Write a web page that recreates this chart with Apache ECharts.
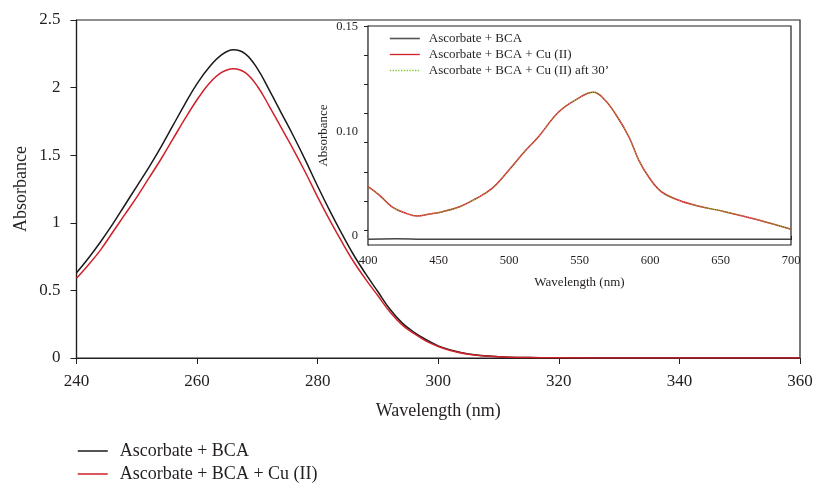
<!DOCTYPE html>
<html>
<head>
<meta charset="utf-8">
<script src="https://cdn.jsdelivr.net/npm/echarts@6/dist/echarts.min.js"></script>
<style>
    html, body { margin: 0; padding: 0; background: #fff; }
    #chart { width: 817px; height: 483px; }
</style>
</head>
<body>
<div id="chart"></div>
<script>
// main spectrum (UV)
var mainWavelength = [240, 242, 244, 246, 248, 250, 252, 254, 256, 258, 260, 262, 264, 266, 268, 270, 272, 274, 276, 278, 280, 282, 284, 286, 288, 290, 292, 294, 296, 298, 300, 302, 305, 310, 315, 320, 330, 340, 350, 360];
var mainBCA = [0.63, 0.74, 0.86, 0.99, 1.13, 1.27, 1.41, 1.56, 1.72, 1.88, 2.03, 2.15, 2.24, 2.28, 2.25, 2.14, 1.98, 1.81, 1.64, 1.46, 1.27, 1.09, 0.92, 0.76, 0.62, 0.49, 0.36, 0.26, 0.19, 0.135, 0.09, 0.06, 0.03, 0.01, 0.003, 0.001, 0, 0, 0, 0];
var mainBCACu = [0.59, 0.69, 0.80, 0.93, 1.06, 1.19, 1.33, 1.47, 1.62, 1.77, 1.91, 2.03, 2.11, 2.14, 2.11, 2.01, 1.86, 1.70, 1.54, 1.37, 1.19, 1.02, 0.86, 0.71, 0.58, 0.46, 0.34, 0.245, 0.18, 0.125, 0.085, 0.056, 0.028, 0.009, 0.003, 0.001, 0, 0, 0, 0];

// inset spectrum (visible)
var insetWavelength = [400, 408, 417, 427, 435, 443, 453, 465, 476, 488, 500, 512, 520, 535, 547, 560, 568, 576, 585, 592, 599, 608, 620, 634, 653, 677, 700];
var insetCu = [0.0472, 0.0392, 0.0280, 0.0217, 0.0191, 0.0208, 0.0233, 0.0280, 0.0354, 0.0456, 0.0632, 0.0823, 0.0935, 0.1184, 0.1301, 0.1375, 0.1301, 0.1158, 0.0950, 0.0727, 0.0567, 0.0424, 0.0344, 0.0287, 0.0233, 0.0153, 0.0064];
var insetCu30 = [0.0472, 0.0392, 0.0280, 0.0217, 0.0191, 0.0208, 0.0233, 0.0280, 0.0354, 0.0456, 0.0632, 0.0823, 0.0935, 0.1184, 0.1301, 0.1375, 0.1301, 0.1158, 0.0950, 0.0727, 0.0567, 0.0424, 0.0344, 0.0287, 0.0233, 0.0153, 0.0064];
var insetBCAWavelength = [400, 420, 440, 470, 500, 550, 600, 650, 700];
var insetBCA = [-0.003, -0.0025, -0.003, -0.003, -0.003, -0.003, -0.003, -0.003, -0.003];

// inset y labels as printed in the figure
var insetLabelValues = [0, 0.10, 0.20];
var insetLabelTexts = ['0', '0.10', '0.15'];

var names = ['Ascorbate + BCA', 'Ascorbate + BCA + Cu (II)', 'Ascorbate + BCA + Cu (II) aft 30\u2019'];

function pairs(xs, ys) {
    return xs.map(function (x, i) { return [x, ys[i]]; });
}

var insetTicks = [];
for (var i = 0; i < 8; i++) insetTicks.push(0.0057 + i * 0.0279);

var font = '"Liberation Serif", "DejaVu Serif", serif';
var ink = '#231f20';
var noDot = { opacity: 0 };

var chart = echarts.init(document.getElementById('chart'));
chart.setOption({
    animation: false,
    textStyle: { fontFamily: font, color: ink },
    grid: [
        { left: 76.5, right: 17, top: 20, bottom: 125, show: true, borderColor: ink, borderWidth: 1.2, backgroundColor: 'transparent' },
        { left: 368, right: 26, top: 26, bottom: 238, show: true, borderColor: ink, borderWidth: 1.2, backgroundColor: '#fff', z: 3 }
    ],
    legend: [
        {
            left: 77, top: 441, height: 60, orient: 'vertical', padding: 0,
            itemWidth: 30, itemHeight: 14, itemGap: 3,
            textStyle: { fontFamily: font, fontSize: 18, lineHeight: 20, color: ink, padding: [0, 0, 0, 7] },
            data: [
                { name: names[0], lineStyle: { color: '#1a1a1a', width: 1.5 }, itemStyle: noDot },
                { name: names[1], lineStyle: { color: '#d0202a', width: 1.5 }, itemStyle: noDot }
            ]
        },
        {
            left: 389, top: 32, height: 60, orient: 'vertical', padding: 0,
            itemWidth: 30, itemHeight: 10, itemGap: 3,
            textStyle: { fontFamily: font, fontSize: 13, color: ink, lineHeight: 13, padding: [0, 0, 0, 4] },
            data: [
                { name: names[0], lineStyle: { color: '#555', width: 1.6 }, itemStyle: noDot },
                { name: names[1], lineStyle: { color: '#d0202a', width: 1.3 }, itemStyle: noDot },
                { name: names[2], lineStyle: { color: '#8cc63f', width: 1.4, type: 'dotted' }, itemStyle: noDot }
            ]
        }
    ],
    xAxis: [
        {
            gridIndex: 0, type: 'value', min: 240, max: 360, interval: 20,
            name: 'Wavelength (nm)', nameLocation: 'middle', nameGap: 44, nameMoveOverlap: false,
            nameTextStyle: { fontFamily: font, fontSize: 18, color: ink },
            axisLine: { lineStyle: { color: ink, width: 1.2 } },
            axisTick: { inside: false, length: 6, lineStyle: { color: ink } },
            axisLabel: { fontFamily: font, fontSize: 17, color: ink, margin: 15 },
            splitLine: { show: false }
        },
        {
            gridIndex: 1, type: 'value', min: 400, max: 700, interval: 50,
            name: 'Wavelength (nm)', nameLocation: 'middle', nameGap: 31, nameMoveOverlap: false,
            nameTextStyle: { fontFamily: font, fontSize: 13, color: ink },
            axisLine: { lineStyle: { color: ink, width: 1.2 } },
            axisTick: { inside: false, length: 4, lineStyle: { color: ink } },
            axisLabel: { fontFamily: font, fontSize: 12.5, color: ink, margin: 9 },
            splitLine: { show: false }
        }
    ],
    yAxis: [
        {
            gridIndex: 0, type: 'value', min: 0, max: 2.5, interval: 0.5,
            name: 'Absorbance', nameLocation: 'middle', nameGap: 46, nameMoveOverlap: false,
            nameTextStyle: { fontFamily: font, fontSize: 18, color: ink },
            axisLine: { show: true, lineStyle: { color: ink, width: 1.2 } },
            axisTick: { show: true, inside: false, length: 6, lineStyle: { color: ink } },
            axisLabel: { fontFamily: font, fontSize: 17, color: ink, margin: 16 },
            splitLine: { show: false }
        },
        {
            gridIndex: 1, type: 'value', min: -0.0086, max: 0.201,
            name: 'Absorbance', nameLocation: 'middle', nameGap: 38, nameMoveOverlap: false,
            nameTextStyle: { fontFamily: font, fontSize: 13, color: ink },
            axisLine: { show: true, onZero: false, lineStyle: { color: ink, width: 1.2 } },
            axisTick: { show: true, inside: false, length: 4, lineStyle: { color: ink }, customValues: insetTicks },
            axisLabel: {
                fontFamily: font, fontSize: 12.5, color: ink, margin: 10,
                customValues: insetLabelValues,
                formatter: function (v) {
                    for (var k = 0; k < insetLabelValues.length; k++) {
                        if (Math.abs(insetLabelValues[k] - v) < 1e-6) return insetLabelTexts[k];
                    }
                    return '';
                }
            },
            splitLine: { show: false }
        }
    ],
    series: [
        {
            name: names[0], type: 'line', xAxisIndex: 0, yAxisIndex: 0,
            data: pairs(mainWavelength, mainBCA), smooth: 0.4, symbol: 'none',
            lineStyle: { color: '#1a1a1a', width: 1.5 }, itemStyle: { color: '#1a1a1a' }
        },
        {
            name: names[1], type: 'line', xAxisIndex: 0, yAxisIndex: 0,
            data: pairs(mainWavelength, mainBCACu), smooth: 0.4, symbol: 'none',
            lineStyle: { color: '#d0202a', width: 1.5 }, itemStyle: { color: '#d0202a' }
        },
        {
            name: names[0], type: 'line', xAxisIndex: 1, yAxisIndex: 1, z: 4,
            data: pairs(insetBCAWavelength, insetBCA), smooth: true, symbol: 'none',
            lineStyle: { color: '#444', width: 1.5 }, itemStyle: { color: '#444' }
        },
        {
            name: names[1], type: 'line', xAxisIndex: 1, yAxisIndex: 1, z: 4,
            data: pairs(insetWavelength, insetCu), smooth: 0.4, symbol: 'none',
            lineStyle: { color: '#d0202a', width: 1.5 }, itemStyle: { color: '#d0202a' }
        },
        {
            name: names[2], type: 'line', xAxisIndex: 1, yAxisIndex: 1, z: 5,
            data: pairs(insetWavelength, insetCu30), smooth: 0.4, symbol: 'none',
            lineStyle: { color: '#8cc63f', width: 1, type: 'dotted' }, itemStyle: { color: '#8cc63f' }
        }
    ]
});
</script>
</body>
</html>
